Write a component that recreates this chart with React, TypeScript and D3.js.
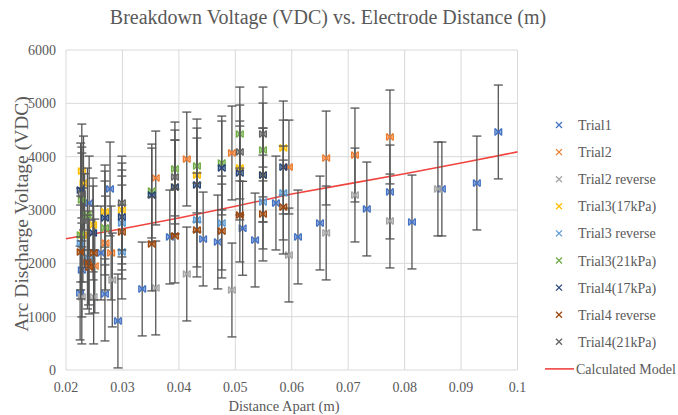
import React from 'react';
import * as d3 from 'd3';

const xTicks = [0.02, 0.03, 0.04, 0.05, 0.06, 0.07, 0.08, 0.09, 0.1];
const yTicks = [0, 1000, 2000, 3000, 4000, 5000, 6000];

const V_ERR = 880;
const D_ERR = 0.0006;

const trial1: [number, number][] = [
  [0.0966, 4463], [0.0928, 3506], [0.0866, 3394], [0.0813, 2775], [0.0774, 3338],
  [0.0733, 3019], [0.065, 2756], [0.0611, 2494], [0.0572, 3131], [0.0535, 2437],
  [0.0513, 2657], [0.0469, 2400], [0.0443, 2456], [0.0384, 2494], [0.0335, 1519],
  [0.0292, 919], [0.0278, 3394], [0.0262, 2194], [0.0269, 1425], [0.0241, 3131],
  [0.0228, 1875], [0.0225, 1444],
];
const trial2: [number, number][] = [
  [0.0774, 4369], [0.0712, 4031], [0.0661, 3975], [0.0595, 3806], [0.0494, 4069],
  [0.0414, 3956], [0.0359, 3600], [0.028, 2194], [0.027, 2381], [0.0251, 1950],
];
const trial2Rev: [number, number][] = [
  [0.0859, 3394], [0.0774, 2794], [0.0712, 3281], [0.0661, 2569], [0.0595, 2156],
  [0.0494, 1500], [0.0414, 1800], [0.0359, 1538], [0.0282, 1688], [0.0249, 1369],
  [0.0228, 1369],
];
const trial3_17: [number, number][] = [
  [0.0585, 4163], [0.0549, 3656], [0.0508, 3788], [0.0432, 3656], [0.0393, 3431],
  [0.0299, 3000], [0.0269, 2963], [0.0248, 2719], [0.0228, 3731], [0.0231, 3506],
  [0.023, 2531],
];
const trial3Rev: [number, number][] = [
  [0.0585, 3319], [0.0549, 3150], [0.0476, 2756], [0.0432, 2813], [0.0299, 2756],
  [0.0299, 2213], [0.0226, 2381], [0.024, 2100],
];
const trial3_21: [number, number][] = [
  [0.0549, 4125], [0.0508, 4425], [0.0476, 3881], [0.0432, 3825], [0.0393, 3769],
  [0.0352, 3356], [0.0269, 2663], [0.0228, 3188], [0.0238, 2906], [0.0226, 2531],
];
const trial4_17: [number, number][] = [
  [0.0585, 3806], [0.0549, 3656], [0.0508, 3694], [0.0476, 3788], [0.0432, 3469],
  [0.0393, 3431], [0.0352, 3281], [0.0299, 2869], [0.0269, 2850], [0.0248, 2569],
  [0.0226, 3375],
];
const trial4Rev: [number, number][] = [
  [0.0585, 3056], [0.0549, 2925], [0.0508, 2906], [0.0476, 2606], [0.0432, 2625],
  [0.0393, 2513], [0.0352, 2363], [0.0299, 2588], [0.0226, 2213], [0.0238, 2025],
  [0.0249, 2194], [0.0241, 1931],
];
const trial4_21: [number, number][] = [
  [0.0549, 4425], [0.0508, 4088], [0.0393, 3619], [0.0299, 3130], [0.0228, 3300],
  [0.0233, 2800],
];

const modelD = [0.02, 0.03, 0.04, 0.05, 0.06, 0.07, 0.08, 0.09, 0.1];
const modelV = [2460, 2650, 2850, 3070, 3300, 3490, 3680, 3880, 4090];

const seriesNames = [
  'Trial1', 'Trial2', 'Trial2 reverse', 'Trial3(17kPa)', 'Trial3 reverse',
  'Trial3(21kPa)', 'Trial4(17kPa)', 'Trial4 reverse', 'Trial4(21kPa)',
];
const seriesData = [trial1, trial2, trial2Rev, trial3_17, trial3Rev, trial3_21, trial4_17, trial4Rev, trial4_21];
const seriesColors = [
  '#4472C4', '#ED7D31', '#A5A5A5', '#FFC000', '#5B9BD5', '#70AD47', '#264478', '#9E480E', '#636363',
];

const FONT = '"Liberation Serif", "DejaVu Serif", serif';
const TXT = '#595959';

export default function App() {
  const W = 678, H = 415;
  const L = 66, R = 517.5, T = 50, B = 370;
  const x = d3.scaleLinear().domain([0.02, 0.1]).range([L, R]);
  const y = d3.scaleLinear().domain([0, 6000]).range([B, T]);
  const line = d3.line<number>().x((_, i) => x(modelD[i])).y((v) => y(v));
  const errColor = '#555555';
  const ms = 3.3;
  const legY0 = 125, legStep = 27.1;

  return (
    <svg width={W} height={H} style={{ position: 'absolute', left: 0, top: 0, background: '#fff' }}>
      <rect x={0} y={0} width={W} height={H} fill="#fff" />
      <text x={328} y={24} textAnchor="middle" fontFamily={FONT} fontSize={20} fill={TXT}>
        Breakdown Voltage (VDC) vs. Electrode Distance (m)
      </text>
      {/* grid */}
      {yTicks.map((t) => (
        <line key={'gy' + t} x1={L} x2={R} y1={y(t)} y2={y(t)} stroke="#D9D9D9" strokeWidth={1} />
      ))}
      {xTicks.map((t) => (
        <line key={'gx' + t} x1={x(t)} x2={x(t)} y1={T} y2={B} stroke="#D9D9D9" strokeWidth={1} />
      ))}
      {yTicks.map((t) => (
        <text key={'ty' + t} x={56} y={y(t) + 5} textAnchor="end" fontFamily={FONT} fontSize={14} fill={TXT}>
          {t}
        </text>
      ))}
      {xTicks.map((t) => (
        <text key={'tx' + t} x={x(t)} y={392} textAnchor="middle" fontFamily={FONT} fontSize={14} fill={TXT}>
          {String(t)}
        </text>
      ))}
      <text x={284} y={411} textAnchor="middle" fontFamily={FONT} fontSize={14.5} fill={TXT}>
        Distance Apart (m)
      </text>
      <text
        transform={`translate(28,214) rotate(-90)`}
        textAnchor="middle"
        fontFamily={FONT}
        fontSize={19.5}
        fill={TXT}
      >
        Arc Discharge Voltage (VDC)
      </text>
      {/* model line */}
      <path d={line(modelV) || ''} fill="none" stroke="#F0443F" strokeWidth={1.6} />
      {/* series */}
      {seriesData.map((data, si) => (
        <g key={'s' + si}>
          {data.map(([d, v], i) => {
            const cx = x(d), cy = y(v);
            const yt = y(v + V_ERR), yb = y(v - V_ERR);
            const xl = x(d - D_ERR), xr = x(d + D_ERR);
            return (
              <g key={i}>
                <line x1={cx} x2={cx} y1={yt} y2={yb} stroke={errColor} strokeWidth={1.3} />
                <line x1={cx - 4.5} x2={cx + 4.5} y1={yt} y2={yt} stroke={errColor} strokeWidth={1.3} />
                <line x1={cx - 4.5} x2={cx + 4.5} y1={yb} y2={yb} stroke={errColor} strokeWidth={1.3} />
                <line x1={xl} x2={xr} y1={cy} y2={cy} stroke={seriesColors[si]} strokeWidth={1} />
                <line x1={xl} x2={xl} y1={cy - 3.5} y2={cy + 3.5} stroke={seriesColors[si]} strokeWidth={1.3} />
                <line x1={xr} x2={xr} y1={cy - 3.5} y2={cy + 3.5} stroke={seriesColors[si]} strokeWidth={1.3} />
                <path
                  d={`M${cx - ms},${cy - ms}L${cx + ms},${cy + ms}M${cx - ms},${cy + ms}L${cx + ms},${cy - ms}`}
                  stroke={seriesColors[si]}
                  strokeWidth={1.6}
                  fill="none"
                />
              </g>
            );
          })}
        </g>
      ))}
      {/* legend */}
      {seriesNames.map((n, i) => {
        const ly = legY0 + i * legStep;
        const lx = 559;
        return (
          <g key={'l' + i}>
            <path
              d={`M${lx - 3},${ly - 3}L${lx + 3},${ly + 3}M${lx - 3},${ly + 3}L${lx + 3},${ly - 3}`}
              stroke={seriesColors[i]}
              strokeWidth={1.3}
              fill="none"
            />
            <text x={578} y={ly + 5} fontFamily={FONT} fontSize={14} fill={TXT}>
              {n}
            </text>
          </g>
        );
      })}
      <line x1={545} x2={574} y1={legY0 + 9 * legStep} y2={legY0 + 9 * legStep} stroke="#F0443F" strokeWidth={1.6} />
      <text x={576} y={legY0 + 9 * legStep + 5} fontFamily={FONT} fontSize={14} fill={TXT}>
        Calculated Model
      </text>
    </svg>
  );
}
